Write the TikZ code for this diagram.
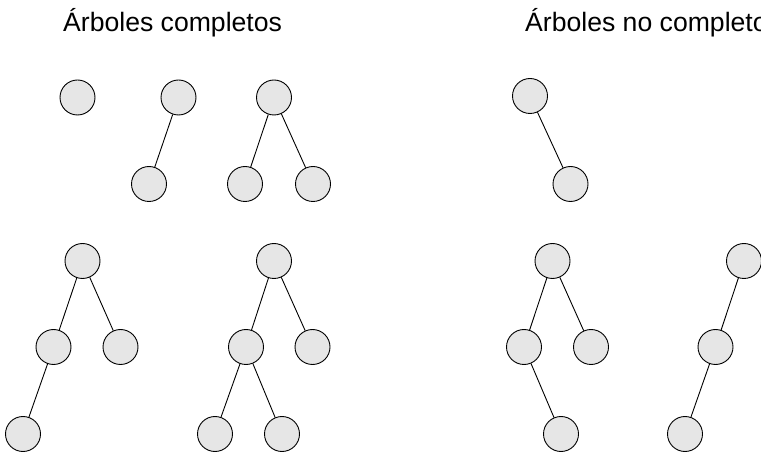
\documentclass[tikz,border=0pt]{standalone}
\usepackage{fontspec}
\setmainfont{Liberation Sans}
\definecolor{nodefill}{HTML}{E6E6E6}
\begin{document}
\begin{tikzpicture}[x=1pt,y=-1pt,
  tnode/.style={circle,draw=black,fill=nodefill,line width=0.9pt,minimum size=35pt,inner sep=0pt},
  tedge/.style={draw=black,line width=0.9pt},
  title/.style={anchor=base west,inner sep=0pt,font=\fontsize{26.6}{32}\selectfont}]
\useasboundingbox (0,0) rectangle (761,454);
\clip (0,0) rectangle (761,454);
\node[title] (t1) at (63,32) {Árboles completos};
\node[title] (t2) at (525,32) {Árboles no completos};
% top row
\node[tnode] (a) at (77.5,97.5) {};
\node[tnode] (b) at (178.5,97.5) {};
\node[tnode] (b1) at (149,184) {};
\node[tnode] (c) at (274,97.5) {};
\node[tnode] (c1) at (245,184) {};
\node[tnode] (c2) at (313,184) {};
\node[tnode] (h) at (530,96) {};
\node[tnode] (h1) at (570.5,184) {};
% bottom row
\node[tnode] (d) at (82.5,261) {};
\node[tnode] (d1) at (53.5,347) {};
\node[tnode] (d2) at (120.5,347) {};
\node[tnode] (d11) at (23,434) {};
\node[tnode] (e) at (274,261) {};
\node[tnode] (e1) at (246,347) {};
\node[tnode] (e2) at (312.5,347) {};
\node[tnode] (e11) at (215,434) {};
\node[tnode] (e12) at (282,434) {};
\node[tnode] (f) at (552.5,261) {};
\node[tnode] (f1) at (524,347) {};
\node[tnode] (f2) at (591,347) {};
\node[tnode] (f12) at (561,434) {};
\node[tnode] (g) at (744,261) {};
\node[tnode] (g1) at (715.5,347) {};
\node[tnode] (g11) at (685,434) {};
% edges
\draw[tedge] (b) -- (b1);
\draw[tedge] (c) -- (c1);
\draw[tedge] (c) -- (c2);
\draw[tedge] (h) -- (h1);
\draw[tedge] (d) -- (d1);
\draw[tedge] (d) -- (d2);
\draw[tedge] (d1) -- (d11);
\draw[tedge] (e) -- (e1);
\draw[tedge] (e) -- (e2);
\draw[tedge] (e1) -- (e11);
\draw[tedge] (e1) -- (e12);
\draw[tedge] (f) -- (f1);
\draw[tedge] (f) -- (f2);
\draw[tedge] (f1) -- (f12);
\draw[tedge] (g) -- (g1);
\draw[tedge] (g1) -- (g11);
\end{tikzpicture}
\end{document}
